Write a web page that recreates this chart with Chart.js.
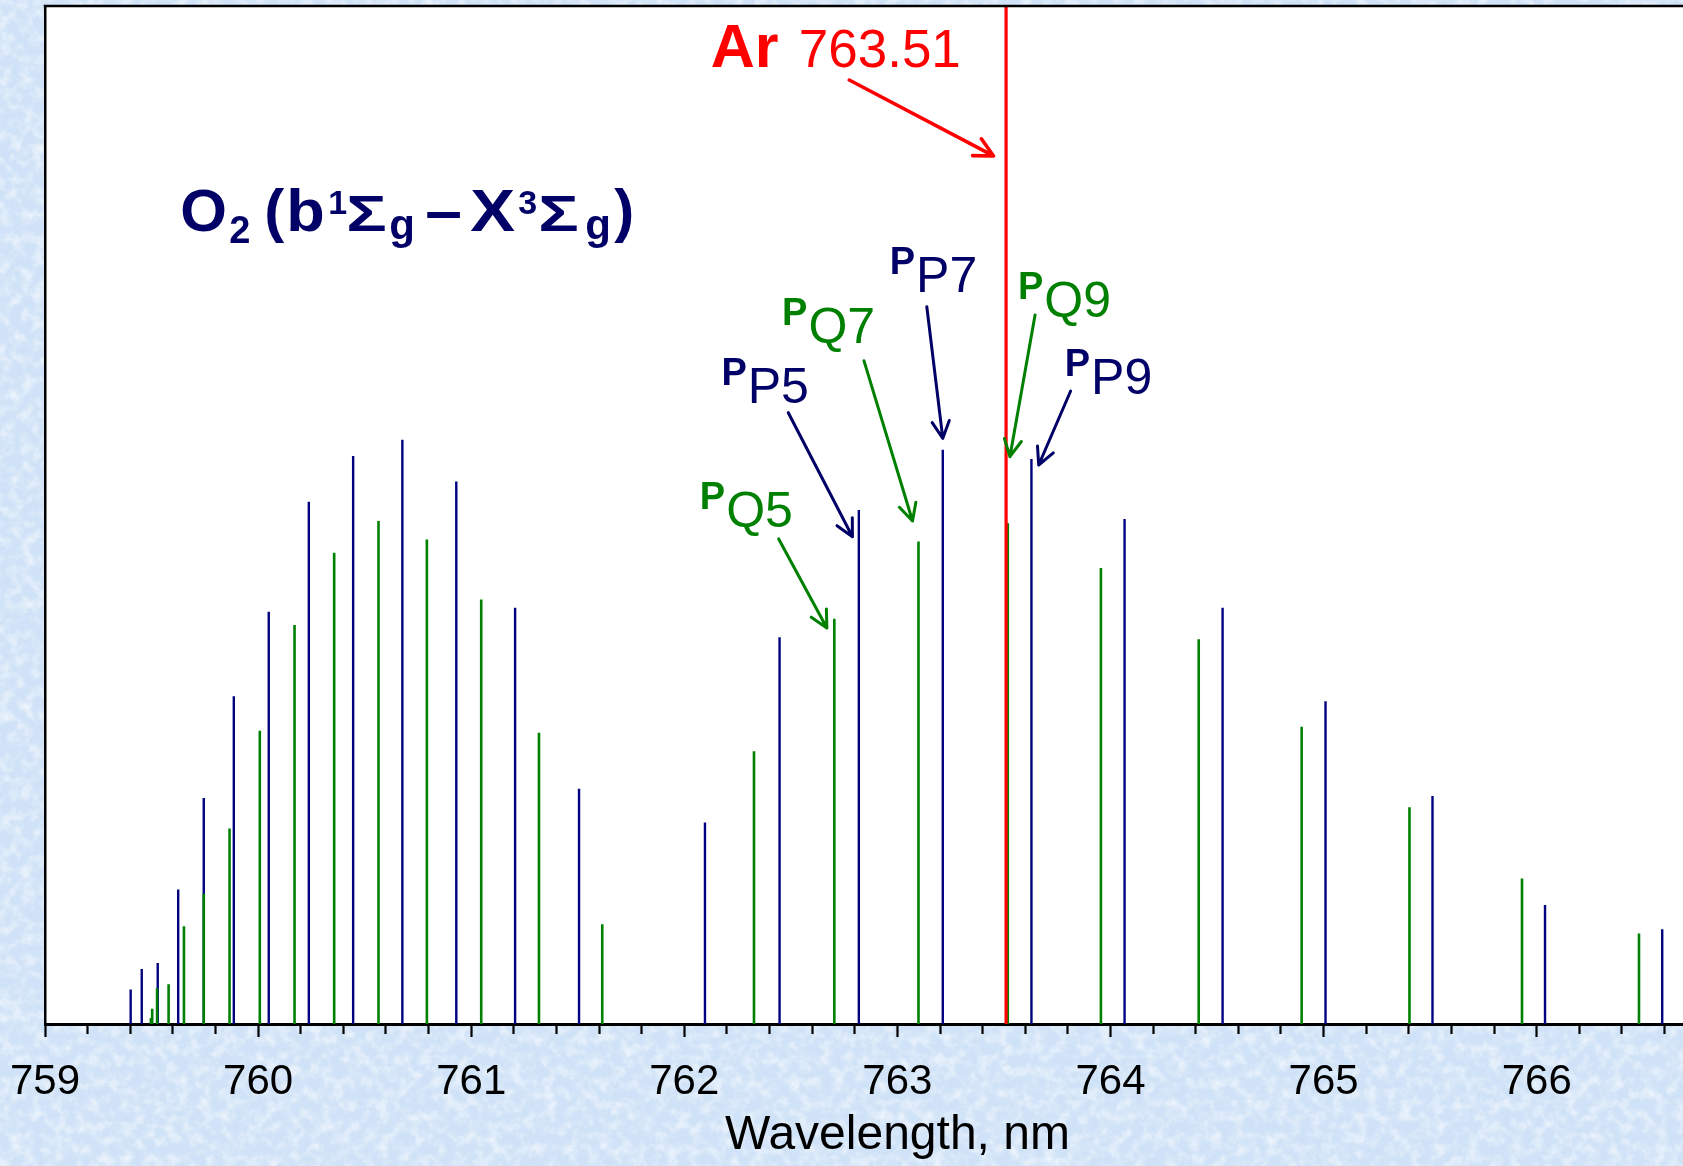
<!DOCTYPE html>
<html>
<head>
<meta charset="utf-8">
<title>O2 b-X (0,0) band near the Ar 763.51 nm line</title>
<script src="https://cdn.jsdelivr.net/npm/chart.js@4.4.1/dist/chart.umd.min.js"></script>
<style>
  html, body { margin: 0; padding: 0; overflow: hidden; }
  body {
    background-color: #cfe2f7;
    /* mottled paper texture for the slide background */
    background-image: url("data:image/svg+xml;utf8,<svg xmlns='http://www.w3.org/2000/svg' width='1800' height='1200'><filter id='n' x='0' y='0' width='100%25' height='100%25'><feTurbulence type='fractalNoise' baseFrequency='0.09' numOctaves='4' seed='7'/><feColorMatrix type='matrix' values='0 0 0 0 1  0 0 0 0 1  0 0 0 0 1  1.3 0 0 0 -0.52'/></filter><rect width='1800' height='1200' filter='url(%23n)'/></svg>");
    background-repeat: no-repeat;
  }
  #wrap { position: relative; width: 1800px; height: 1166px; }
</style>
</head>
<body>
<div id="wrap"><canvas id="spectrum" width="1800" height="1166"></canvas></div>
<script>
// P-branch lines (navy): wavelength in nm and relative intensity (% of full scale)
const pWavelengths = [759.402, 759.454, 759.529, 759.625, 759.745, 759.886, 760.050, 760.238,
  760.446, 760.677, 760.930, 761.206, 761.506, 762.097, 762.447, 762.819, 763.213, 763.629,
  764.066, 764.526, 765.009, 765.511, 766.039, 766.589];
const pIntensity = [3.4, 5.4, 6.0, 13.2, 22.2, 32.2, 40.5, 51.3,
  55.8, 57.4, 53.3, 40.9, 23.1, 19.8, 38.0, 50.5, 56.4, 55.5,
  49.6, 40.9, 31.7, 22.4, 11.7, 9.3];

// Q-branch lines (green)
const qWavelengths = [759.497, 759.503, 759.526, 759.580, 759.652, 759.745, 759.866, 760.008,
  760.171, 760.357, 760.565, 760.792, 761.047, 761.318, 761.615, 762.327, 762.704, 763.099,
  763.518, 763.955, 764.414, 764.897, 765.403, 765.931, 766.480];
const qIntensity = [0.6, 1.5, 3.5, 3.9, 9.6, 12.8, 19.2, 28.8,
  39.2, 46.3, 49.4, 47.6, 41.7, 28.6, 9.8, 26.8, 39.8, 47.4,
  49.2, 44.8, 37.8, 29.2, 21.3, 14.3, 8.9];

// Argon calibration line
const arWavelength = 763.51;
const arIntensity = 100;

// axis range and tick step
const xMin = 759;
const xMax = 767;
const minorStep = 0.2;

const NAVY = '#000080';
const INK = '#000066';
const GREEN = '#008000';
const RED = '#ff0000';
const FONT = "'Liberation Sans', Arial, Helvetica, sans-serif";

// rotational line labels: superscript + name, anchored at main text baseline (data units)
const lineLabels = [
  { sup: 'P', name: 'Q5', x: 762.073, y: 48.87, color: GREEN, from: [762.443, 47.65], to: [762.669, 38.90] },
  { sup: 'P', name: 'P5', x: 762.174, y: 60.97, color: INK, from: [762.488, 60.05], to: [762.789, 47.86] },
  { sup: 'P', name: 'Q7', x: 762.459, y: 66.87, color: GREEN, from: [762.843, 65.16], to: [763.071, 49.41] },
  { sup: 'P', name: 'P7', x: 762.964, y: 71.94, color: INK, from: [763.138, 70.46], to: [763.213, 57.53] },
  { sup: 'P', name: 'Q9', x: 763.566, y: 69.42, color: GREEN, from: [763.646, 69.65], to: [763.528, 55.73] },
  { sup: 'P', name: 'P9', x: 763.785, y: 61.89, color: INK, from: [763.813, 62.18], to: [763.663, 54.91] }
];

// band designation, drawn piece by piece (offsets in px from the start)
const bandTitle = { x: 759.635, y: 77.9 };
const bandParts = [
  { t: 'O', size: 60, dx: 0, dy: 0 },
  { t: '2', size: 38, dx: 49, dy: 12 },
  { t: '(', size: 60, dx: 84, dy: 0 },
  { t: 'b', size: 60, dx: 106, dy: 0, sx: 1.05 },
  { t: '1', size: 34, dx: 148, dy: -17 },
  { t: 'Σ', size: 50, dx: 166, dy: 0, sx: 1.35 },
  { t: 'g', size: 42, dx: 209, dy: 8 },
  { t: '–', size: 60, dx: 245, dy: 0, sx: 1.1 },
  { t: 'X', size: 60, dx: 290, dy: 0, sx: 1.12 },
  { t: '3', size: 34, dx: 338, dy: -17 },
  { t: 'Σ', size: 50, dx: 358, dy: 0, sx: 1.35 },
  { t: 'g', size: 42, dx: 405, dy: 8 },
  { t: ')', size: 60, dx: 434, dy: 0 }
];

const arLabel = { x: 762.124, y: 94.04, from: [762.774, 92.73], to: [763.451, 85.27] };

function toPoints(xs, ys) {
  return xs.map((x, i) => ({ x: x, y: ys[i] }));
}

function drawArrow(ctx, x1, y1, x2, y2, color, width, head) {
  const ang = Math.atan2(y2 - y1, x2 - x1);
  ctx.strokeStyle = color;
  ctx.lineWidth = width;
  ctx.lineCap = 'round';
  ctx.lineJoin = 'round';
  ctx.beginPath();
  ctx.moveTo(x1, y1);
  ctx.lineTo(x2, y2);
  [-1, 1].forEach(s => {
    const a = ang + Math.PI + s * 0.47;
    ctx.moveTo(x2, y2);
    ctx.lineTo(x2 + head * Math.cos(a), y2 + head * Math.sin(a));
  });
  ctx.stroke();
}

// white plot area, top frame line and all text annotations
const annotations = {
  id: 'annotations',
  beforeDraw(chart) {
    const { ctx, chartArea: a } = chart;
    ctx.save();
    ctx.fillStyle = '#ffffff';
    ctx.fillRect(a.left, a.top, chart.width - a.left, a.bottom - a.top);
    ctx.restore();
  },
  afterDraw(chart) {
    const { ctx, chartArea: a } = chart;
    const sx = chart.scales.x;
    const sy = chart.scales.y;
    const px = v => sx.getPixelForValue(v);
    const py = v => sy.getPixelForValue(v);

    ctx.save();
    // top frame
    ctx.strokeStyle = '#000';
    ctx.lineWidth = 2.5;
    ctx.beginPath();
    ctx.moveTo(a.left - 1.2, a.top);
    ctx.lineTo(chart.width, a.top);
    ctx.stroke();

    ctx.textAlign = 'left';
    ctx.textBaseline = 'alphabetic';

    // O2 (b1Σg – X3Σg)
    const tx = px(bandTitle.x);
    const ty = py(bandTitle.y);
    ctx.fillStyle = INK;
    bandParts.forEach(p => {
      ctx.save();
      ctx.font = 'bold ' + p.size + 'px ' + FONT;
      ctx.translate(tx + p.dx, ty + p.dy);
      ctx.scale(p.sx || 1, 1);
      ctx.fillText(p.t, 0, 0);
      ctx.restore();
    });

    // Ar 763.51
    const ax = px(arLabel.x);
    const ay = py(arLabel.y);
    ctx.fillStyle = RED;
    ctx.font = 'bold 61px ' + FONT;
    ctx.fillText('Ar', ax, ay);
    ctx.font = '53px ' + FONT;
    ctx.fillText(arWavelength.toFixed(2), ax + 88, ay);
    drawArrow(ctx, px(arLabel.from[0]), py(arLabel.from[1]), px(arLabel.to[0]), py(arLabel.to[1]), RED, 3.6, 21);

    // line assignments
    lineLabels.forEach(l => {
      const lx = px(l.x);
      const ly = py(l.y);
      ctx.fillStyle = l.color;
      ctx.font = 'bold 38px ' + FONT;
      ctx.fillText(l.sup, lx, ly - 18);
      const w = ctx.measureText(l.sup).width;
      ctx.font = '50px ' + FONT;
      ctx.fillText(l.name, lx + w + 1, ly);
      drawArrow(ctx, px(l.from[0]), py(l.from[1]), px(l.to[0]), py(l.to[1]), l.color, 3, 19);
    });
    ctx.restore();
  }
};

function isMajor(v) {
  return Math.abs(v - Math.round(v)) < 1e-6;
}

const chart = new Chart(document.getElementById('spectrum'), {
  type: 'bar',
  data: {
    datasets: [
      {
        label: 'Ar',
        data: [{ x: arWavelength, y: arIntensity }],
        backgroundColor: RED,
        barThickness: 3.2,
        order: 0
      },
      {
        label: 'Q branch',
        data: toPoints(qWavelengths, qIntensity),
        backgroundColor: GREEN,
        barThickness: 2.6,
        order: 1
      },
      {
        label: 'P branch',
        data: toPoints(pWavelengths, pIntensity),
        backgroundColor: NAVY,
        barThickness: 2.4,
        order: 2
      }
    ]
  },
  options: {
    responsive: false,
    animation: false,
    events: [],
    layout: { padding: { left: 45, right: 50.2, top: 6, bottom: 0 } },
    datasets: {
      bar: { grouped: false, borderWidth: 0, inflateAmount: 0 }
    },
    plugins: {
      legend: { display: false },
      tooltip: { enabled: false }
    },
    scales: {
      x: {
        type: 'linear',
        position: 'bottom',
        min: xMin,
        max: xMax,
        offset: false,
        afterFit(scale) { scale.height = 142; },
        border: { display: true, color: '#000', width: 3 },
        grid: {
          display: true,
          drawOnChartArea: false,
          drawTicks: true,
          offset: false,
          tickLength: 13,
          tickWidth: 2.2,
          tickColor: '#000',
          // minor ticks are cut short with a dash pattern
          tickBorderDash: ctx => (ctx.tick && isMajor(ctx.tick.value)) ? [] : [8, 100]
        },
        ticks: {
          stepSize: minorStep,
          autoSkip: false,
          maxRotation: 0,
          minRotation: 0,
          padding: 3,
          color: '#000',
          // tall line box drops the labels well below the tick marks
          font: { family: FONT, size: 42, lineHeight: 2.02 },
          callback: v => isMajor(v) ? String(Math.round(v)) : ''
        },
        title: {
          display: true,
          text: 'Wavelength, nm',
          color: '#000',
          font: { family: FONT, size: 48 },
          padding: { top: 0, bottom: 1 }
        }
      },
      y: {
        type: 'linear',
        min: 0,
        max: 100,
        afterFit(scale) { scale.width = 0; },
        border: { display: true, color: '#000', width: 2.5 },
        grid: { display: false, drawTicks: false },
        ticks: { display: false }
      }
    }
  },
  plugins: [annotations]
});
</script>
</body>
</html>
